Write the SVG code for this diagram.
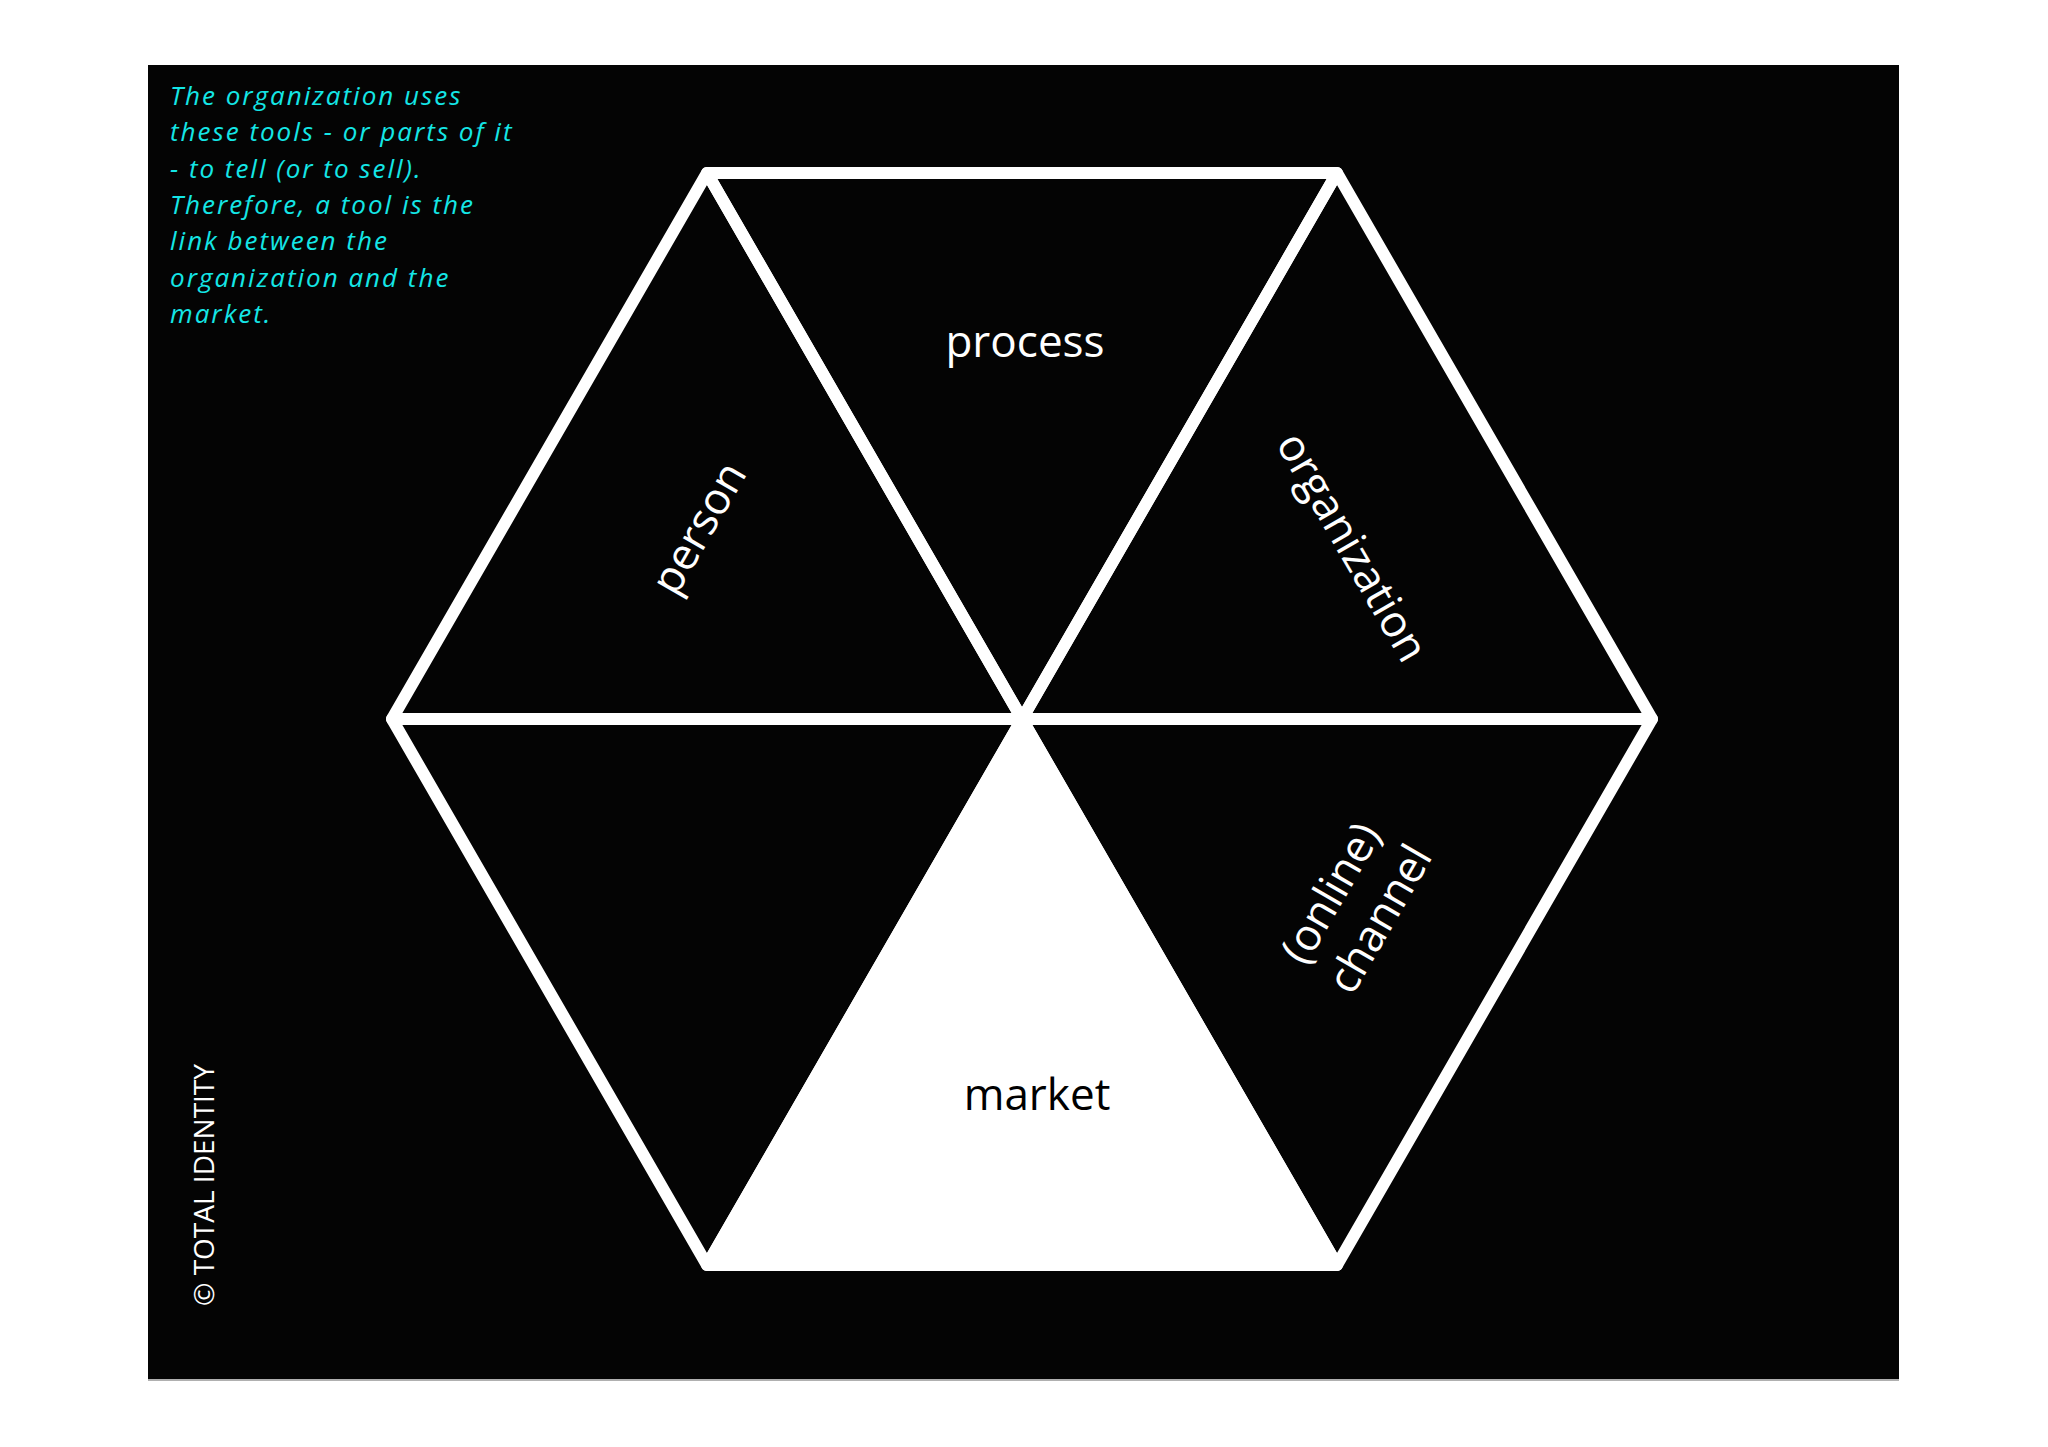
<svg xmlns="http://www.w3.org/2000/svg" width="2048" height="1447" viewBox="0 0 2048 1447">
<style>
.tri{fill:none;stroke:#fff;stroke-width:12;stroke-linejoin:round;stroke-linecap:round}
.lbl{font-family:"Open Sans","Noto Sans",sans-serif;font-size:44px;fill:#fff;text-anchor:middle}
.mid{dominant-baseline:central}
.note{font-family:"Open Sans","Noto Sans",sans-serif;font-style:italic;font-size:26px;letter-spacing:2px;fill:#14e6e6}
</style>
<rect x="0" y="0" width="2048" height="1447" fill="#fff"/>
<rect x="148" y="65" width="1751" height="1314" fill="#040404"/>
<line x1="148" y1="1380" x2="1899" y2="1380" stroke="#b0b0b0" stroke-width="2"/>
<g id="connectors">
</g>
<g id="node-process">
<polygon class="tri" points="707,173 1337,173 1022,719"/>
<text class="lbl" x="1025" y="357">process</text>
</g>
<g id="node-person">
<polygon class="tri" points="707,173 392,719 1022,719"/>
<text class="lbl mid" transform="translate(697,527) rotate(-60)">person</text>
</g>
<g id="node-organization">
<polygon class="tri" points="1337,173 1652,719 1022,719"/>
<text class="lbl mid" transform="translate(1354,546) rotate(60)">organization</text>
</g>
<g id="node-channel">
<polygon class="tri" points="1022,719 1652,719 1337,1265"/>
<text class="lbl mid" transform="translate(1329,892) rotate(-60)">(online)</text>
<text class="lbl mid" transform="translate(1378,918) rotate(-60)">channel</text>
</g>
<g id="node-market">
<polygon class="tri" points="1022,719 1337,1265 707,1265" style="fill:#fff"/>
<text class="lbl" x="1037" y="1110" style="fill:#000">market</text>
</g>
<g id="node-empty">
<polygon class="tri" points="392,719 1022,719 707,1265"/>
</g>
<g id="note">
<text class="note" x="170" y="105">The organization uses</text>
<text class="note" x="170" y="141">these tools - or parts of it</text>
<text class="note" x="170" y="178">- to tell (or to sell).</text>
<text class="note" x="170" y="214">Therefore, a tool is the</text>
<text class="note" x="170" y="250">link between the</text>
<text class="note" x="170" y="287">organization and the</text>
<text class="note" x="170" y="323">market.</text>
</g>
<g id="copyright">
<text class="mid" transform="translate(203,1185) rotate(-90)" style="font-family:'Open Sans','Noto Sans',sans-serif;font-size:28px;fill:#fff;text-anchor:middle">© TOTAL IDENTITY</text>
</g>
</svg>
